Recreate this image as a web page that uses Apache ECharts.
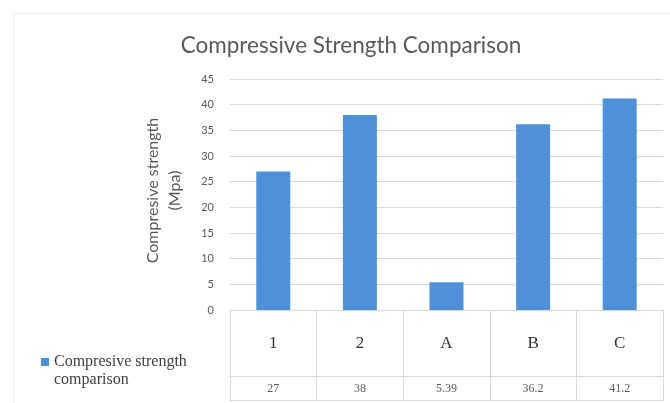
<!DOCTYPE html>
<html>
<head>
<meta charset="utf-8">
<script src="https://cdn.jsdelivr.net/npm/echarts@6/dist/echarts.min.js"></script>
<style>html,body{margin:0;padding:0;background:#fff;}#c{width:670px;height:403px;}</style>
</head>
<body>
<div id="c"></div>
<script>
var titleText = 'Compressive Strength Comparison';
var seriesName = 'Compresive strength comparison';
var yAxisTitle = 'Compresive strength\n(Mpa)';
var categories = ['1', '2', 'A', 'B', 'C'];
var values = [27, 38, 5.39, 36.2, 41.2];
var valueLabels = ['27', '38', '5.39', '36.2', '41.2'];
var yTicks = {min: 0, max: 45, interval: 5};

var lineColor = '#d9d9d9';
var chart = echarts.init(document.getElementById('c'), null, {renderer: 'canvas'});
chart.setOption({
  animation: false,
  backgroundColor: '#ffffff',
  title: {
    text: titleText,
    left: 346, top: 29, textAlign: 'center',
    textStyle: {fontFamily: 'Lato', fontSize: 22.5, fontWeight: 'normal', color: '#595959'}
  },
  graphic: [{
    type: 'rect', silent: true,
    shape: {x: 13.5, y: 13.5, width: 720, height: 420},
    style: {fill: 'none', stroke: '#ededed', lineWidth: 1}
  }],
  legend: {
    left: 36, top: 348, orient: 'vertical',
    icon: 'path://M0,0H8V8H0Z M0,26H0.01V26.01H0Z',
    itemWidth: 8, itemHeight: 26, itemGap: 8,
    formatter: function (n) { return n.replace(' comparison', '\ncomparison'); },
    textStyle: {fontFamily: 'Liberation Serif', fontSize: 16, color: '#404040', lineHeight: 18},
    data: [seriesName]
  },
  grid: {left: 230, right: 7, top: 79, bottom: 93},
  xAxis: [{
    type: 'category', data: categories, position: 'bottom',
    axisLine: {show: true, lineStyle: {color: lineColor}},
    axisTick: {show: true, length: 90, interval: 0, lineStyle: {color: lineColor}},
    axisLabel: {margin: 25, fontFamily: 'Liberation Serif', fontSize: 17, color: '#333333', interval: 0}
  }, {
    type: 'category', data: valueLabels, position: 'bottom', offset: 66,
    axisLine: {show: true, lineStyle: {color: lineColor}},
    axisTick: {show: false},
    axisLabel: {margin: 7, fontFamily: 'Liberation Serif', fontSize: 12, color: '#595959', interval: 0}
  }, {
    type: 'category', data: categories, position: 'bottom', offset: 90,
    axisLine: {show: true, lineStyle: {color: lineColor}},
    axisTick: {show: false},
    axisLabel: {show: false}
  }],
  yAxis: {
    type: 'value', min: yTicks.min, max: yTicks.max, interval: yTicks.interval,
    name: yAxisTitle, nameLocation: 'middle', nameRotate: 90, nameGap: 44,
    nameTextStyle: {fontFamily: 'Lato', fontSize: 16, color: '#595959', lineHeight: 22, padding: [0, 0, 0, 8]},
    axisLine: {show: false}, axisTick: {show: false},
    axisLabel: {margin: 16, fontFamily: 'Lato', fontSize: 11, color: '#595959'},
    splitLine: {lineStyle: {color: lineColor}}
  },
  series: [{
    name: seriesName, type: 'bar', xAxisIndex: 0,
    data: values, barWidth: 34,
    itemStyle: {color: '#4f91d8'}
  }]
});
</script>
</body>
</html>
